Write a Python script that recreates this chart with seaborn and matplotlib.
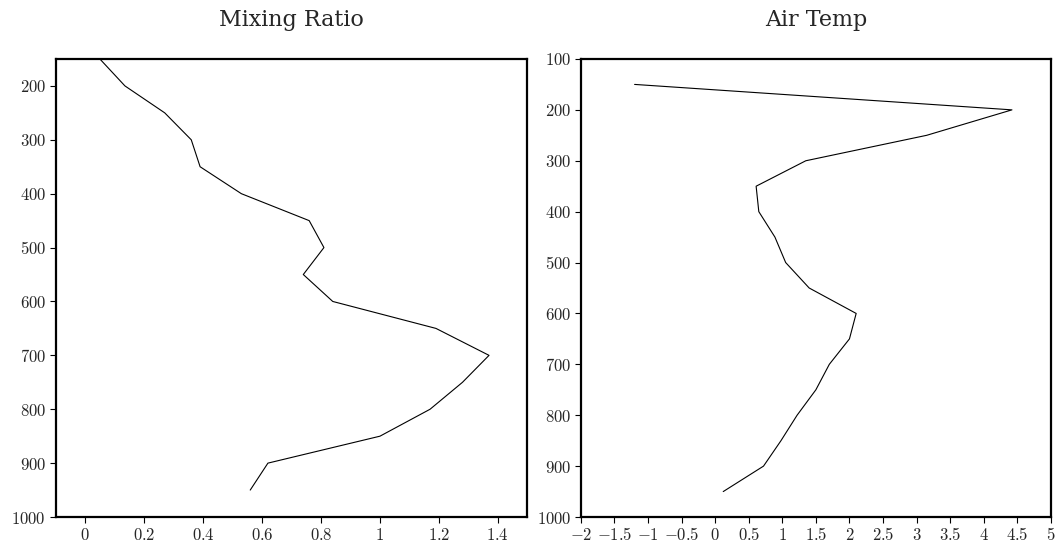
import numpy as np
import pandas as pd
import matplotlib
matplotlib.use("Agg")
import matplotlib.pyplot as plt
import seaborn as sns
from matplotlib.ticker import FuncFormatter

# Niveles de presión (hPa) y perfiles
niveles = [150, 200, 250, 300, 350, 400, 450, 500, 550, 600, 650, 700, 750, 800, 850, 900, 950]
mixing_ratio = [0.05, 0.135, 0.27, 0.36, 0.39, 0.53, 0.76, 0.81, 0.74, 0.84, 1.19, 1.37, 1.28, 1.17, 1.00, 0.62, 0.56]
air_temp = [-1.2, 4.42, 3.15, 1.35, 0.61, 0.65, 0.89, 1.05, 1.40, 2.10, 2.00, 1.70, 1.50, 1.22, 0.98, 0.72, 0.12]

ticks_mr = [0, 0.2, 0.4, 0.6, 0.8, 1, 1.2, 1.4]
ticks_t = [-2, -1.5, -1, -0.5, 0, 0.5, 1, 1.5, 2, 2.5, 3, 3.5, 4, 4.5, 5]
ticks_p_izq = [200, 300, 400, 500, 600, 700, 800, 900, 1000]
ticks_p_der = [100, 200, 300, 400, 500, 600, 700, 800, 900, 1000]

sns.set_theme(style="white")
plt.rcParams["mathtext.fontset"] = "cm"
plt.rcParams["font.family"] = ["DejaVu Serif"]

df = pd.DataFrame({"p": niveles, "mr": mixing_ratio, "t": air_temp})

fig = plt.figure(figsize=(10.6, 5.44), dpi=100)
ax1 = fig.add_axes([0.0525, 0.0496, 0.445, 0.842])
ax2 = fig.add_axes([0.548, 0.0496, 0.4434, 0.842])

sns.lineplot(data=df, x="mr", y="p", orient="y", ax=ax1, color="black", linewidth=0.8)
sns.lineplot(data=df, x="t", y="p", orient="y", ax=ax2, color="black", linewidth=0.8)

fmt = FuncFormatter(lambda v, pos: f"${v:g}$")

ax1.set_xlim(-0.1, 1.5)
ax1.set_ylim(1000, 150)
ax1.set_xticks(ticks_mr)
ax1.set_yticks(ticks_p_izq)
ax1.set_title("Mixing Ratio", fontsize=16, pad=24)

ax2.set_xlim(-2, 5)
ax2.set_ylim(1000, 100)
ax2.set_xticks(ticks_t)
ax2.set_yticks(ticks_p_der)
ax2.set_title("Air Temp", fontsize=16, pad=24)

for ax in (ax1, ax2):
    ax.set_xlabel("")
    ax.set_ylabel("")
    ax.xaxis.set_major_formatter(fmt)
    ax.yaxis.set_major_formatter(fmt)
    ax.tick_params(direction="out", length=4, width=0.8, color="black",
                   labelsize=12, pad=3, left=True, bottom=True)
    for s in ax.spines.values():
        s.set_color("black")
        s.set_linewidth(1.6)

fig.savefig("out.png", dpi=100)
